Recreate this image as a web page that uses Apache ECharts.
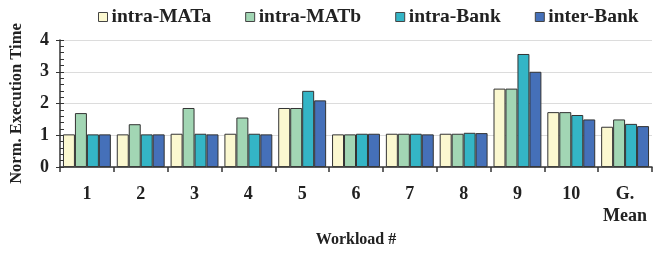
<!DOCTYPE html>
<html>
<head>
<meta charset="utf-8">
<script src="https://cdn.jsdelivr.net/npm/echarts@6/dist/echarts.min.js"></script>
<style>
  html, body { margin: 0; padding: 0; background: #fff; }
  #chart { width: 659px; height: 253px; }
</style>
</head>
<body>
<div id="chart"></div>
<script>
// workloads on the x axis
const workloads = ['1', '2', '3', '4', '5', '6', '7', '8', '9', '10', 'G.\nMean'];

// normalized execution time per scheme
const intraMATa = [1.03, 1.03, 1.05, 1.05, 1.86, 1.03, 1.05, 1.05, 2.47, 1.73, 1.27];
const intraMATb = [1.70, 1.35, 1.86, 1.56, 1.86, 1.03, 1.05, 1.05, 2.47, 1.73, 1.50];
const intraBank = [1.03, 1.03, 1.05, 1.05, 2.40, 1.05, 1.05, 1.08, 3.56, 1.64, 1.36];
const interBank = [1.03, 1.03, 1.03, 1.03, 2.10, 1.05, 1.03, 1.07, 3.00, 1.50, 1.29];

const font = 'Liberation Serif';

function makeSeries(name, data, color) {
    return {
        name: name,
        type: 'bar',
        data: data,
        barGap: '0%',
        barCategoryGap: '11%',
        itemStyle: {
            color: color,
            borderColor: '#333',
            borderWidth: 1
        }
    };
}

const chart = echarts.init(document.getElementById('chart'));
const option = {
    animation: false,
    textStyle: { fontFamily: font },
    legend: {
        top: 2,
        left: 93,
        itemGap: 34,
        itemWidth: 9,
        itemHeight: 9,
        icon: 'rect',
        textStyle: { fontFamily: font, fontWeight: 'bold', fontSize: 19.5, color: '#222', padding: [0, 0, 0, -1] },
        itemStyle: { borderColor: '#444', borderWidth: 1 }
    },
    grid: { left: 60, right: 7, top: 40, bottom: 82 },
    xAxis: {
        type: 'category',
        data: workloads,
        name: 'Workload #',
        nameLocation: 'middle',
        nameGap: 64,
        nameTextStyle: { fontFamily: font, fontWeight: 'bold', fontSize: 16, color: '#222' },
        axisLine: { lineStyle: { color: '#333', width: 1.5 } },
        axisTick: { show: true, length: 5, lineStyle: { color: '#333', width: 1.5 } },
        axisLabel: { fontFamily: font, fontWeight: 'bold', fontSize: 18, color: '#222', margin: 16, lineHeight: 22, interval: 0 }
    },
    yAxis: [{
        type: 'value',
        min: 0,
        max: 4,
        interval: 1,
        name: 'Norm. Execution Time',
        nameLocation: 'middle',
        nameGap: 35,
        nameTextStyle: { fontFamily: font, fontWeight: 'bold', fontSize: 16.5, color: '#222' },
        axisLine: { show: true, lineStyle: { color: '#333', width: 1.5 } },
        axisTick: { show: true, inside: true, length: 4, lineStyle: { color: '#333' } },
        minorTick: { show: true, splitNumber: 5, length: 4, lineStyle: { color: '#333' } },
        splitLine: { show: true, lineStyle: { color: '#dcdcdc', width: 1 } },
        axisLabel: { fontFamily: font, fontWeight: 'bold', fontSize: 18, color: '#222', margin: 11 }
    }, {
        type: 'value',
        position: 'left',
        min: 0,
        max: 4,
        interval: 1,
        axisLine: { show: false },
        axisTick: { show: true, inside: false, length: 4, lineStyle: { color: '#333' } },
        axisLabel: { show: false },
        splitLine: { show: false }
    }],
    series: [
        makeSeries('intra-MATa', intraMATa, '#fbf8d0'),
        makeSeries('intra-MATb', intraMATb, '#a2d6b4'),
        makeSeries('intra-Bank', intraBank, '#34b5c6'),
        makeSeries('inter-Bank', interBank, '#4570b9')
    ]
};
chart.setOption(option);
</script>
</body>
</html>
